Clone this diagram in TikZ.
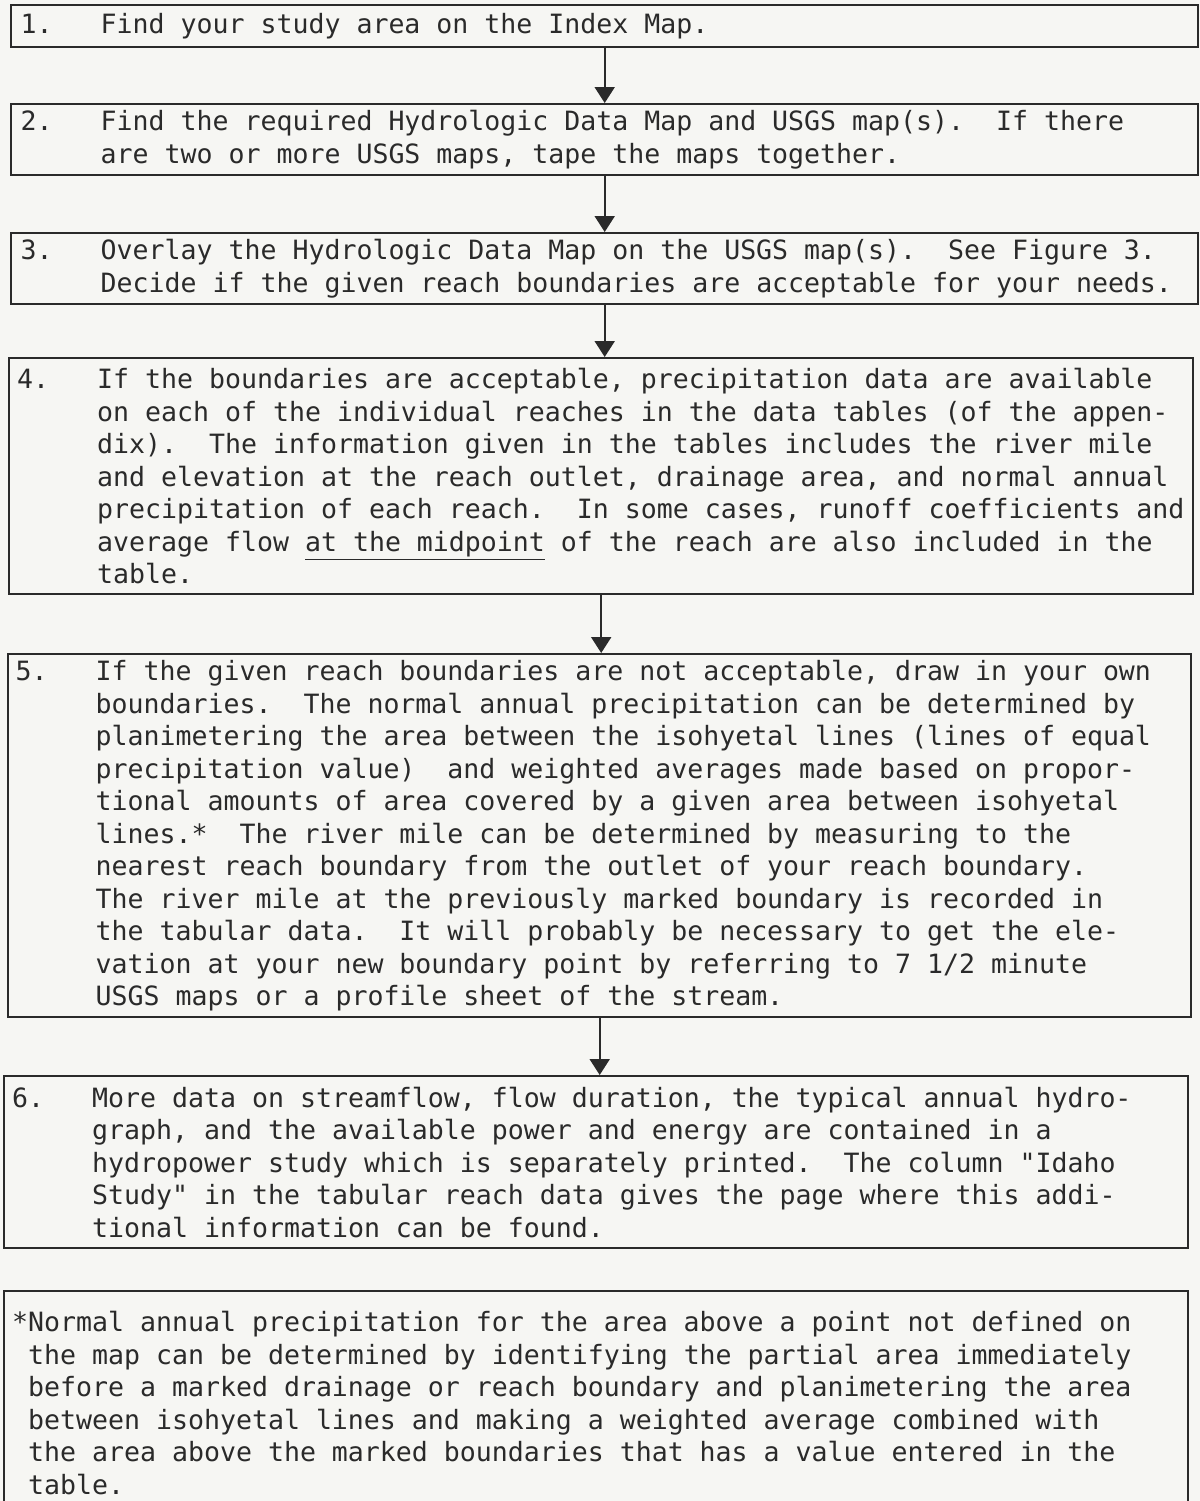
\documentclass[tikz,border=0pt]{standalone}
\usepackage{fontspec}
\setmonofont{DejaVu Sans Mono}[WordSpace={1,0,0}]
\usepackage{tikz}
\usetikzlibrary{arrows.meta}
\definecolor{paper}{RGB}{246,246,243}
\definecolor{ink}{RGB}{42,42,42}
\newlength{\numwd}
\setlength{\numwd}{40pt}
\newcommand{\stepnum}[1]{\makebox[\numwd][l]{#1}}
\newcommand{\typed}[2][\numwd]{\parbox[t]{584pt}{\spaceskip=0pt\xspaceskip=0pt%
  \hangindent=#1\hangafter=1 #2}}
\tikzset{
  basic/.style   = {draw=ink, line width=1.2pt, rectangle, text=ink, anchor=north west,
                    font=\ttfamily\fontsize{13.28pt}{16.25pt}\selectfont\frenchspacing},
  stepbox/.style = {basic, inner xsep=3.5pt, inner ysep=2pt},
  flow/.style    = {draw=ink, line width=1pt, -{Triangle[width=10pt,length=8pt]}}
}

\begin{document}
\begin{tikzpicture}[x=0.5pt,y=-0.5pt]
\useasboundingbox[fill=paper] (0,0) rectangle (1200,1501);
\node[stepbox, minimum width=593.5pt, minimum height=21pt] (s1) at (10,4)
  {\typed{\stepnum{1.}Find your study area on the Index Map.}};
\node[stepbox, minimum width=593.5pt, minimum height=35.5pt] (s2) at (10,103)
  {\typed{\stepnum{2.}Find the required Hydrologic Data Map and USGS map(s).~ If there\\
   are two or more USGS maps, tape the maps together.}};
\node[stepbox, minimum width=593.5pt, minimum height=35.5pt] (s3) at (10,232)
  {\typed{\stepnum{3.}Overlay the Hydrologic Data Map on the USGS map(s).~ See Figure 3.\\
   Decide if the given reach boundaries are acceptable for your needs.}};
\node[stepbox, minimum width=592pt, minimum height=118pt] (s4) at (8,357)
  {\typed{\stepnum{4.}If the boundaries are acceptable, precipitation data are available\\
   on each of the individual reaches in the data tables (of the appen-\\
   dix).~ The information given in the tables includes the river mile\\
   and elevation at the reach outlet, drainage area, and normal annual\\
   precipitation of each reach.~ In some cases, runoff coefficients and\\
   average flow \underline{at the midpoint} of the reach are also included in the\\
   table.}};
\node[stepbox, minimum width=591.5pt, minimum height=181.5pt] (s5) at (7,653)
  {\typed{\stepnum{5.}If the given reach boundaries are not acceptable, draw in your own\\
   boundaries.~ The normal annual precipitation can be determined by\\
   planimetering the area between the isohyetal lines (lines of equal\\
   precipitation value)~ and weighted averages made based on propor-\\
   tional amounts of area covered by a given area between isohyetal\\
   lines.*~ The river mile can be determined by measuring to the\\
   nearest reach boundary from the outlet of your reach boundary.\\
   The river mile at the previously marked boundary is recorded in\\
   the tabular data.~ It will probably be necessary to get the ele-\\
   vation at your new boundary point by referring to 7 1/2 minute\\
   USGS maps or a profile sheet of the stream.}};
\node[stepbox, minimum width=592pt, minimum height=86pt] (s6) at (3,1075)
  {\typed{\stepnum{6.}More data on streamflow, flow duration, the typical annual hydro-\\
   graph, and the available power and energy are contained in a\\
   hydropower study which is separately printed.~ The column "Idaho\\
   Study" in the tabular reach data gives the page where this addi-\\
   tional information can be found.}};
% footnote, bottom edge runs off the page
\node[stepbox, minimum width=592pt, minimum height=112pt] (fn) at (3,1290)
  {\typed[8pt]{*Normal annual precipitation for the area above a point not defined on\\
   the map can be determined by identifying the partial area immediately\\
   before a marked drainage or reach boundary and planimetering the area\\
   between isohyetal lines and making a weighted average combined with\\
   the area above the marked boundaries that has a value entered in the\\
   table.}};
\foreach \a/\b in {s1/s2,s2/s3,s3/s4,s4/s5,s5/s6}
  \draw[flow] (\a.south) -- (\a.south |- \b.north);
\end{tikzpicture}
\end{document}
